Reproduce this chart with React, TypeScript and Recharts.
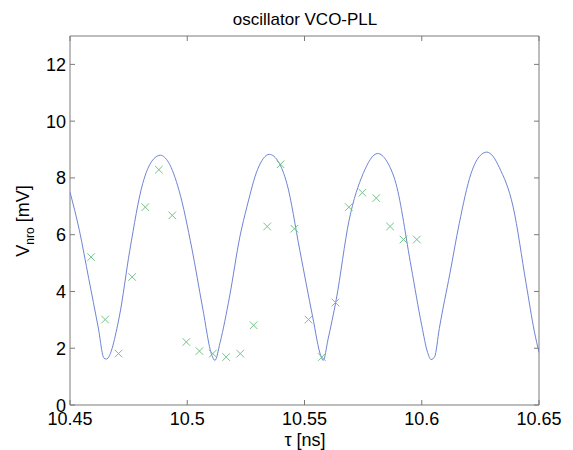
import React from 'react';
import {
  ComposedChart,
  Line,
  Scatter,
  XAxis,
  YAxis,
  ReferenceArea,
} from 'recharts';

const FONT = '"Liberation Sans", Arial, sans-serif';

// VCO output
const tauLine = [
  10.45, 10.454, 10.458, 10.462, 10.4645, 10.4655, 10.471, 10.4755, 10.481, 10.485,
  10.4885, 10.492, 10.4965, 10.502, 10.5065, 10.5105, 10.5118, 10.514, 10.518, 10.5225,
  10.5255, 10.53, 10.535, 10.539, 10.5425, 10.548, 10.5535, 10.557, 10.558, 10.56,
  10.5635, 10.569, 10.575, 10.5812, 10.585, 10.589, 10.5955, 10.6, 10.6025, 10.604,
  10.6055, 10.6075, 10.612, 10.616, 10.621, 10.6245, 10.6277, 10.6305, 10.633, 10.639,
  10.6445, 10.648, 10.65,
];
const vLine = [
  7.5, 6.15, 4.45, 2.75, 1.65, 1.62, 3.1, 5.45, 7.8, 8.6,
  8.8, 8.55, 7.56, 5.5, 3.45, 1.75, 1.57, 2.2, 3.8, 5.95,
  7.0, 8.3, 8.83, 8.55, 7.8, 5.45, 3.1, 1.72, 1.57, 2.3,
  3.7, 6.5, 8.15, 8.86, 8.6, 7.8, 4.86, 2.8, 1.85, 1.6,
  1.7, 2.7, 4.63, 6.4, 8.15, 8.75, 8.91, 8.75, 8.38, 6.97,
  4.28, 2.6, 1.85,
];

// measured samples (x markers)
const tauMarks = [
  10.459, 10.465, 10.4707, 10.4765, 10.4821, 10.4879, 10.4936, 10.4996, 10.5052, 10.5109,
  10.5166, 10.5226, 10.5283, 10.5341, 10.5398, 10.5457, 10.5517, 10.5574, 10.5632, 10.5689,
  10.5747, 10.5806, 10.5865, 10.5922, 10.5979,
];
const vMarks = [
  5.21, 3.01, 1.81, 4.51, 6.97, 8.29, 6.68, 2.22, 1.9, 1.81,
  1.69, 1.81, 2.81, 6.29, 8.48, 6.21, 3.01, 1.69, 3.61, 6.97,
  7.48, 7.29, 6.29, 5.83, 5.83,
];

const xTicks = [10.45, 10.5, 10.55, 10.6, 10.65];
const yTicks = [0, 2, 4, 6, 8, 10, 12];

const lineData = tauLine.map((t, i) => ({ t, v: vLine[i] }));
const markData = tauMarks.map((t, i) => ({ t, v: vMarks[i] }));

const W = 573;
const H = 450;
const Y_AXIS_W = 40;
const X_AXIS_H = 30;
const M = { top: 36, right: 34, bottom: 45 - X_AXIS_H, left: 70 - Y_AXIS_W };
const PW = W - 70 - 34;
const PH = H - 36 - 45;
const AXIS = '#7a7a7a';

const renderXTick = (props: any) => {
  const { x, y, payload } = props;
  return (
    <g key={`xt-${payload.value}`}>
      <line x1={x} y1={y} x2={x} y2={y - 5} stroke={AXIS} />
      <line x1={x} y1={y - PH} x2={x} y2={y - PH + 5} stroke={AXIS} />
      <text x={x} y={y + 20} textAnchor="middle" fontSize={18} fontFamily={FONT} fill="#000">
        {String(payload.value)}
      </text>
    </g>
  );
};

const renderYTick = (props: any) => {
  const { x, y, payload } = props;
  return (
    <g key={`yt-${payload.value}`}>
      <line x1={x} y1={y} x2={x + 5} y2={y} stroke={AXIS} />
      <line x1={x + PW} y1={y} x2={x + PW - 5} y2={y} stroke={AXIS} />
      <text x={x - 4} y={y + 6.5} textAnchor="end" fontSize={18} fontFamily={FONT} fill="#000">
        {String(payload.value)}
      </text>
    </g>
  );
};

function Cross({ cx, cy }: any) {
  const r = 3.8;
  return (
    <g stroke="#74c48a" strokeWidth={1}>
      <line x1={cx - r} y1={cy - r} x2={cx + r} y2={cy + r} />
      <line x1={cx - r} y1={cy + r} x2={cx + r} y2={cy - r} />
    </g>
  );
}

export default function App() {
  return (
    <div style={{ position: 'absolute', left: 0, top: 0, width: W, height: H, background: '#fff', fontFamily: FONT }}>
      <ComposedChart width={W} height={H} margin={M}>
        <XAxis
          type="number"
          dataKey="t"
          domain={[10.45, 10.65]}
          ticks={xTicks}
          interval={0}
          allowDataOverflow
          height={X_AXIS_H}
          tickSize={0}
          tickMargin={0}
          axisLine={false}
          tickLine={false}
          tick={renderXTick}
        />
        <YAxis
          type="number"
          dataKey="v"
          domain={[0, 13]}
          ticks={yTicks}
          interval={0}
          allowDataOverflow
          width={Y_AXIS_W}
          tickSize={0}
          tickMargin={0}
          axisLine={false}
          tickLine={false}
          tick={renderYTick}
        />
        <ReferenceArea x1={10.45} x2={10.65} y1={0} y2={13} fill="none" stroke={AXIS} strokeWidth={1} />
        <Line
          data={lineData}
          dataKey="v"
          type="monotone"
          stroke="#6f84d4"
          strokeWidth={1}
          dot={false}
          activeDot={false}
          isAnimationActive={false}
        />
        <Scatter data={markData} dataKey="v" shape={<Cross />} isAnimationActive={false} />
      </ComposedChart>
      <div
        style={{
          position: 'absolute',
          left: 305,
          top: 20,
          transform: 'translate(-50%, -50%)',
          fontSize: 17,
          whiteSpace: 'nowrap',
          color: '#000',
        }}
      >
        oscillator VCO-PLL
      </div>
      <div
        style={{
          position: 'absolute',
          left: 305,
          top: 440,
          transform: 'translate(-50%, -50%)',
          fontSize: 18,
          lineHeight: 1,
          whiteSpace: 'nowrap',
          color: '#000',
        }}
      >
        τ [ns]
      </div>
      <div
        style={{
          position: 'absolute',
          left: 25,
          top: 221,
          transform: 'translate(-50%, -50%) rotate(-90deg)',
          fontSize: 18,
          whiteSpace: 'nowrap',
          color: '#000',
          lineHeight: 1,
        }}
      >
        V<sub style={{ fontSize: 12 }}>nro</sub> [mV]
      </div>
    </div>
  );
}
